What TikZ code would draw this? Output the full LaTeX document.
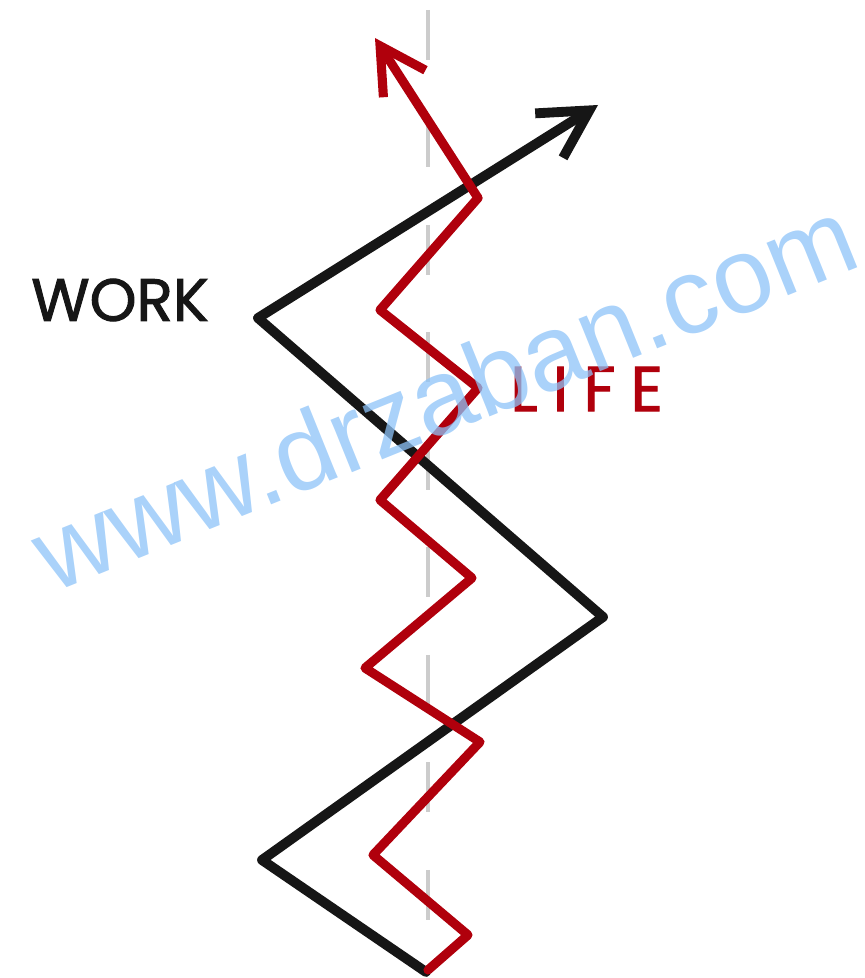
\documentclass[tikz,border=0pt]{standalone}
\usepackage{fontspec}
\usepackage{tikz}
\usetikzlibrary{arrows.meta}
\usepackage{xcolor}
\definecolor{workc}{HTML}{161616}
\definecolor{lifec}{HTML}{B0000C}
\definecolor{markc}{HTML}{8DC3F8}
\newfontfamily\handfont{Poppins}[FakeBold=1.6]
\newfontfamily\lifefont{Poppins}[FakeBold=1.6, LetterSpace=24]
\setsansfont{Liberation Sans}

\begin{document}
\begin{tikzpicture}[x=0.02cm, y=0.02cm,
  workline/.style={workc, line width=5.6pt, line cap=round, line join=round},
  lifeline/.style={lifec, line width=5.2pt, line cap=round, line join=round},
  wtip/.style={-{Straight Barb[length=0.95cm, width=1.05cm, line width=5.6pt]}},
  ltip/.style={-{Straight Barb[length=0.9cm, width=1.0cm, line width=5.2pt]}},
  lbl/.style={font=\handfont\fontsize{34}{34}\selectfont}]
  \useasboundingbox (0,0) rectangle (865,978);
  % middle line
  \draw[black!20, line width=2.4pt, dash pattern=on 1cm off 1.15cm] (428,968) -- (428,3);
  % work
  \coordinate (w0) at (426,6);
  \coordinate (w1) at (262,118);
  \coordinate (w2) at (603,361);
  \coordinate (w3) at (258,660);
  \coordinate (w4) at (598,873);
  \draw[workline] (w0) -- (w1) -- (w2) -- (w3);
  \draw[workline, wtip] (w3) -- (w4);
  % life
  \coordinate (l0) at (428,8);
  \coordinate (l1) at (468,43);
  \coordinate (l2) at (373,123);
  \coordinate (l3) at (480,236);
  \coordinate (l4) at (365,310);
  \coordinate (l5) at (472,400);
  \coordinate (l6) at (380,478);
  \coordinate (l7) at (478,590);
  \coordinate (l8) at (380,668);
  \coordinate (l9) at (478,780);
  \coordinate (l10) at (375,940);
  \draw[lifeline] (l0) -- (l1) -- (l2) -- (l3) -- (l4) -- (l5) -- (l6) -- (l7) -- (l8) -- (l9);
  \draw[lifeline, ltip] (l9) -- (l10);
  \node[lbl, text=workc] (work) at (120,678) {WORK};
  \node[font=\lifefont\fontsize{36}{36}\selectfont, text=lifec, anchor=west] (life) at (504,589) {LIFE};
  % watermark
  \node[font=\sffamily\fontsize{61}{61}\selectfont, text=markc, opacity=0.75, rotate=22] (mark) at (444,584) {www.drzaban.com};
\end{tikzpicture}
\end{document}
